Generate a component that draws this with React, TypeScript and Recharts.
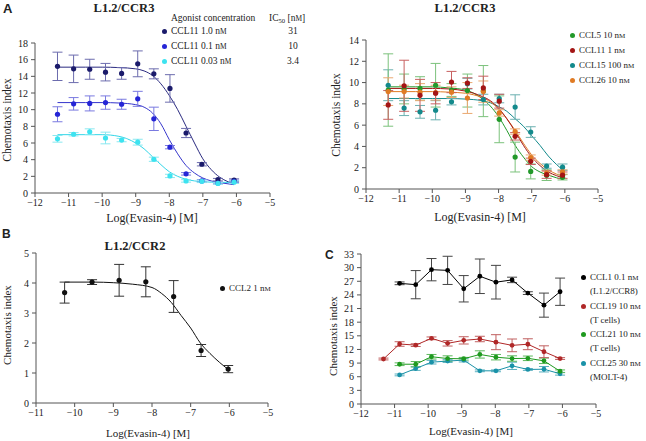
import React from 'react';
import { ComposedChart, XAxis, YAxis, Line, Scatter, ErrorBar } from 'recharts';

// dilution series (log M)
const doses = [-11.33, -10.85, -10.37, -9.9, -9.42, -8.94, -8.46, -7.98, -7.5, -7.03, -6.55, -6.07];
const fitX = [-11.33, -10.5, -10, -9.5, -9, -8.75, -8.5, -8.25, -8, -7.75, -7.5, -7.25, -7, -6.75, -6.5, -6.25, -6.07];

// panel A, left
const ccl11_10 = [15.2, 14.9, 14.85, 14.5, 14.35, 15.5, 14.3, 12.55, 7.2, 3.45, 1.6, 1.55];
const ccl11_10Err = [1.7, 1.65, 1.2, 1.05, 0.7, 1.55, 0.6, 1.65, 0.55, 0.2, 0.15, 0.15];
const ccl11_01 = [9.45, 10.7, 10.75, 10.85, 10.65, 11.3, 8.9, 5.5, 2.3, 1.45, 1.2, 1.4];
const ccl11_01Err = [0.9, 0.75, 0.9, 0.8, 0.6, 0.9, 1.4, 0.2, 0.15, 0.15, 0.1, 0.15];
const ccl11_003 = [6.5, 7.05, 7.35, 6.6, 6.35, 6.1, 4.05, 2.05, 1.45, 1.4, 1.15, 1.3];
const ccl11_003Err = [0.4, 0.2, 0.35, 0.7, 0.2, 0.35, 0.25, 0.2, 0.15, 0.15, 0.1, 0.15];
const fit10 = [15.1, 15.1, 15.1, 15.05, 14.9, 14.65, 14.1, 13.1, 11.7, 10.0, 8.0, 6.0, 4.1, 2.8, 1.9, 1.35, 1.05];
const fit01 = [10.85, 10.85, 10.85, 10.8, 10.6, 10.3, 9.6, 8.3, 6.4, 4.7, 3.3, 2.4, 1.8, 1.45, 1.25, 1.1, 1.0];
const fit003 = [7.0, 7.0, 7.0, 6.8, 6.0, 5.3, 4.35, 3.4, 2.55, 2.0, 1.65, 1.45, 1.35, 1.3, 1.28, 1.27, 1.27];
const aLeftNames = ['CCL11 1.0', 'CCL11 0.1', 'CCL11 0.03'];
const aLeftIc50 = ['31', '10', '3.4'];

// panel A, right
const ccl5 = [9.3, 9.4, 9.45, 9.75, 9.3, 9.25, 9.2, 6.55, 3.0, 1.65, 1.3, 1.1];
const ccl5Err = [3.4, 1.4, 1.1, 2.05, 0.6, 1.55, 2.4, 2.2, 1.4, 0.7, 0.5, 0.25];
const ccl11 = [7.9, 9.7, 8.8, 9.0, 10.05, 9.95, 9.5, 8.25, 4.95, 2.6, 1.35, 1.3];
const ccl11Err = [1.35, 2.4, 1.5, 1.0, 1.0, 0.5, 1.1, 0.65, 0.35, 0.3, 0.35, 0.3];
const ccl15 = [9.75, 7.6, 7.25, 7.4, 8.2, 9.9, 8.4, 8.5, 7.7, 5.35, 2.15, 2.05];
const ccl15Err = [1.45, 0.7, 0.6, 0.9, 0.3, 0.5, 0.5, 0.4, 1.15, 0.5, 0.2, 0.3];
const ccl26 = [9.15, 9.15, 9.1, 9.05, 9.1, 8.55, 9.15, 7.15, 5.4, 2.95, 1.5, 1.6];
const ccl26Err = [1.3, 0.6, 0.8, 0.7, 0.5, 1.45, 1.0, 0.3, 0.25, 0.25, 0.2, 0.2];
const fitCcl5 = [9.6, 9.6, 9.6, 9.5, 9.3, 9.0, 8.5, 7.8, 6.8, 5.5, 4.1, 3.0, 2.1, 1.6, 1.3, 1.05, 0.9];
const fitCcl11 = [9.45, 9.45, 9.45, 9.4, 9.2, 9.0, 8.7, 8.3, 7.6, 6.6, 5.4, 4.1, 3.0, 2.2, 1.6, 1.25, 1.05];
const fitCcl15 = [8.5, 8.5, 8.5, 8.5, 8.45, 8.4, 8.3, 8.1, 7.75, 7.3, 6.6, 5.9, 5.0, 4.1, 3.1, 2.3, 1.8];
const fitCcl26 = [9.15, 9.15, 9.15, 9.1, 9.0, 8.85, 8.6, 8.2, 7.5, 6.6, 5.5, 4.3, 3.2, 2.4, 1.8, 1.4, 1.2];
const aRightNames = ['CCL5 10', 'CCL11 1', 'CCL15 100', 'CCL26 10'];

// panel B
const dosesB = [-10.26, -9.55, -8.85, -8.16, -7.44, -6.73, -6.03];
const ccl2 = [3.68, 4.03, 4.09, 4.04, 3.55, 1.75, 1.13];
const ccl2Err = [0.35, 0.08, 0.53, 0.5, 0.53, 0.2, 0.12];
const fitXB = [-10.26, -9.5, -9, -8.5, -8, -7.75, -7.5, -7.25, -7, -6.75, -6.5, -6.25, -6.03];
const fitCcl2 = [4.03, 4.03, 4.01, 3.96, 3.85, 3.65, 3.35, 2.92, 2.5, 2.0, 1.65, 1.35, 1.12];

// panel C
const ccl1 = [null, 26.55, 26.25, 29.55, 29.4, 25.35, 28.1, 26.8, 27.3, 24.4, 21.75, 24.7];
const ccl1Err = [0, 0.3, 3.1, 2.45, 3.1, 2.9, 3.8, 3.7, 0.6, 0.3, 2.65, 3.0];
const ccl19 = [9.9, 13.2, 12.95, 14.45, 13.35, 14.0, 14.3, 13.6, 12.9, 13.15, 11.5, 10.0];
const ccl19Err = [0.2, 0.5, 0.3, 0.3, 0.6, 0.8, 0.6, 1.65, 1.4, 1.2, 1.3, 0.2];
const ccl21 = [null, 8.75, 8.75, 10.4, 10.0, 9.95, 10.9, 10.3, 10.0, 10.05, 9.5, 7.2];
const ccl21Err = [0, 0.3, 0.6, 0.5, 0.6, 0.3, 0.8, 0.6, 0.6, 0.5, 0.6, 0.3];
const ccl25 = [null, 6.4, 7.8, 9.2, 9.45, 9.65, 7.3, 7.3, 8.4, 7.6, 7.65, 6.65];
const ccl25Err = [0, 0.2, 0.4, 0.4, 0.3, 0.4, 0.2, 0.2, 0.8, 0.2, 0.6, 0.3];
const cNames = [['CCL1 0.1', '(L1.2/CCR8)'], ['CCL19 10', '(T cells)'], ['CCL21 10', '(T cells)'], ['CCL25 30', '(MOLT-4)']];

const SERIF = '"Liberation Serif", "Times New Roman", serif';
const SANS = '"Liberation Sans", Arial, sans-serif';

const pts = (xs: number[], ys: (number | null)[], es?: number[]) =>
  xs.map((x, i) => ({ x, y: ys[i], err: es ? es[i] : 0 })).filter((p) => p.y !== null);

const minus = (v: number) => (v < 0 ? '\u2212' + Math.abs(v) : String(v));

const NM = () => (
  <>
    n<span style={{ fontSize: '0.78em' }}>M</span>
  </>
);

type Ser = { data: any[]; color: string; err: string; r: number; line?: boolean };
type Fit = { data: any[]; color: string };

type PanelProps = {
  left: number;
  top: number;
  width: number;
  height: number;
  margin: { top: number; right: number; bottom: number; left: number };
  yWidth: number;
  xHeight: number;
  xTicks: number[];
  yTicks: number[];
  series: Ser[];
  fits: Fit[];
  xLab: [number, number, number];
  yLab: [number, number, number];
};

const tickStyle = { fill: '#222', fontSize: 10, style: { fontFamily: SERIF } };

function Panel(p: PanelProps) {
  const xl = () => (
    <text x={p.xLab[0]} y={p.xLab[1]} textAnchor="middle" dominantBaseline="central" fill="#222" style={{ fontFamily: SERIF, fontSize: p.xLab[2] }}>
      Log(Evasin-4) [M]
    </text>
  );
  const yl = () => (
    <text
      x={p.yLab[0]}
      y={p.yLab[1]}
      transform={`rotate(-90 ${p.yLab[0]} ${p.yLab[1]})`}
      textAnchor="middle"
      dominantBaseline="central"
      fill="#222"
      style={{ fontFamily: SERIF, fontSize: p.yLab[2] }}
    >
      Chemotaxis index
    </text>
  );
  return (
    <div style={{ position: 'absolute', left: p.left, top: p.top }}>
      <ComposedChart width={p.width} height={p.height} margin={p.margin} style={{ fontFamily: SERIF }}>
        <XAxis
          type="number"
          dataKey="x"
          domain={[p.xTicks[0], p.xTicks[p.xTicks.length - 1]]}
          ticks={p.xTicks}
          interval={0}
          allowDataOverflow
          height={p.xHeight}
          stroke="#555"
          tick={tickStyle}
          tickSize={4}
          tickMargin={2}
          tickFormatter={minus}
          label={xl}
        />
        <YAxis
          type="number"
          dataKey="y"
          domain={[p.yTicks[0], p.yTicks[p.yTicks.length - 1]]}
          ticks={p.yTicks}
          interval={0}
          width={p.yWidth}
          stroke="#555"
          tick={tickStyle}
          tickSize={4}
          tickMargin={3}
          label={yl}
        />
        {p.fits.map((f, i) => (
          <Line key={'f' + i} data={f.data} dataKey="y" type="monotone" dot={false} stroke={f.color} strokeWidth={1} isAnimationActive={false} />
        ))}
        {p.series.map((s, i) => (
          <Scatter
            key={'s' + i}
            data={s.data}
            dataKey="y"
            fill={s.color}
            line={s.line ? { stroke: s.color, strokeWidth: 1 } : false}
            shape={(d: any) => <circle cx={d.cx} cy={d.cy} r={s.r} fill={s.color} />}
            isAnimationActive={false}
          >
            <ErrorBar dataKey="err" direction="y" width={5} stroke={s.err} strokeWidth={1} />
          </Scatter>
        ))}
      </ComposedChart>
    </div>
  );
}

const abs = (left: number, top: number, extra: React.CSSProperties = {}): React.CSSProperties => ({
  position: 'absolute',
  left,
  top,
  whiteSpace: 'nowrap',
  lineHeight: 1,
  ...extra,
});

const Bullet = ({ color }: { color: string }) => (
  <span style={{ display: 'inline-block', width: 5, height: 5, borderRadius: 3, background: color, marginRight: 4, verticalAlign: 'middle' }} />
);

const aLeftColors = ['#1b1b6b', '#2525d6', '#3de3f0'];
const aRightColors = ['#22992a', '#a31515', '#138a8c', '#e07b24'];
const cColors = ['#000000', '#b02828', '#1f9a1f', '#1a92a8'];

export default function App() {
  const xsA = [-12, -11, -10, -9, -8, -7, -6, -5];
  return (
    <div style={{ position: 'absolute', left: 0, top: 0, width: 646, height: 441, background: '#fff', fontFamily: SERIF, color: '#222', overflow: 'hidden' }}>
      <Panel
        left={0}
        top={0}
        width={323}
        height={228}
        margin={{ top: 43, right: 53, bottom: 0, left: 0 }}
        yWidth={35}
        xHeight={35}
        xTicks={xsA}
        yTicks={[0, 2, 4, 6, 8, 10, 12, 14, 16, 18]}
        fits={[
          { data: pts(fitX, fit10), color: '#2a2a80' },
          { data: pts(fitX, fit01), color: '#3535cc' },
          { data: pts(fitX, fit003), color: '#33d6e8' },
        ]}
        series={[
          { data: pts(doses, ccl11_10, ccl11_10Err), color: aLeftColors[0], err: '#6c6cae', r: 2.6 },
          { data: pts(doses, ccl11_01, ccl11_01Err), color: aLeftColors[1], err: '#7a7ae0', r: 2.6 },
          { data: pts(doses, ccl11_003, ccl11_003Err), color: aLeftColors[2], err: '#8ae8f0', r: 2.6 },
        ]}
        xLab={[152, 218, 12]}
        yLab={[7, 120, 11.5]}
      />
      <Panel
        left={323}
        top={0}
        width={323}
        height={228}
        margin={{ top: 40, right: 48, bottom: 0, left: 0 }}
        yWidth={43}
        xHeight={39}
        xTicks={xsA}
        yTicks={[0, 2, 4, 6, 8, 10, 12, 14]}
        fits={[
          { data: pts(fitX, fitCcl15), color: aRightColors[2] },
          { data: pts(fitX, fitCcl5), color: aRightColors[0] },
          { data: pts(fitX, fitCcl26), color: aRightColors[3] },
          { data: pts(fitX, fitCcl11), color: aRightColors[1] },
        ]}
        series={[
          { data: pts(doses, ccl15, ccl15Err), color: aRightColors[2], err: '#6ab0b0', r: 2.6 },
          { data: pts(doses, ccl5, ccl5Err), color: aRightColors[0], err: '#7cc27c', r: 2.6 },
          { data: pts(doses, ccl26, ccl26Err), color: aRightColors[3], err: '#eaa870', r: 2.6 },
          { data: pts(doses, ccl11, ccl11Err), color: aRightColors[1], err: '#c86060', r: 2.6 },
        ]}
        xLab={[157, 217, 12]}
        yLab={[13, 115, 11.5]}
      />
      <Panel
        left={0}
        top={220}
        width={323}
        height={221}
        margin={{ top: 33, right: 55, bottom: 0, left: 0 }}
        yWidth={36}
        xHeight={38}
        xTicks={[-11, -10, -9, -8, -7, -6, -5]}
        yTicks={[0, 1, 2, 3, 4, 5]}
        fits={[{ data: pts(fitXB, fitCcl2), color: '#111' }]}
        series={[{ data: pts(dosesB, ccl2, ccl2Err), color: '#111', err: '#333', r: 2.6 }]}
        xLab={[148, 213, 11]}
        yLab={[7, 105, 11]}
      />
      <Panel
        left={323}
        top={220}
        width={323}
        height={221}
        margin={{ top: 34, right: 50, bottom: 0, left: 0 }}
        yWidth={38}
        xHeight={37}
        xTicks={xsA}
        yTicks={[0, 3, 6, 9, 12, 15, 18, 21, 24, 27, 30, 33]}
        fits={[]}
        series={[
          { data: pts(doses, ccl25, ccl25Err), color: cColors[3], err: '#5ab0c0', r: 2.4, line: true },
          { data: pts(doses, ccl21, ccl21Err), color: cColors[2], err: '#5cb85c', r: 2.4, line: true },
          { data: pts(doses, ccl19, ccl19Err), color: cColors[1], err: '#c06060', r: 2.4, line: true },
          { data: pts(doses, ccl1, ccl1Err), color: cColors[0], err: '#444', r: 2.4, line: true },
        ]}
        xLab={[148, 211, 11]}
        yLab={[10, 116, 11]}
      />

      {/* panel letters and titles */}
      <div style={abs(3, 2, { fontFamily: SANS, fontWeight: 'bold', fontSize: 13 })}>A</div>
      <div style={abs(2, 228, { fontFamily: SANS, fontWeight: 'bold', fontSize: 12 })}>B</div>
      <div style={abs(325, 249, { fontFamily: SANS, fontWeight: 'bold', fontSize: 12 })}>C</div>
      <div style={abs(124, 7.5, { fontWeight: 'bold', fontSize: 12.5, transform: 'translate(-50%,-50%)' })}>L1.2/CCR3</div>
      <div style={abs(465, 8, { fontWeight: 'bold', fontSize: 12.5, transform: 'translate(-50%,-50%)' })}>L1.2/CCR3</div>
      <div style={abs(135, 246, { fontWeight: 'bold', fontSize: 12.5, transform: 'translate(-50%,-50%)' })}>L1.2/CCR2</div>

      {/* panel A left legend */}
      <div style={abs(171, 13.5, { fontSize: 9.5 })}>Agonist concentration</div>
      <div style={abs(269, 13.5, { fontSize: 9.5 })}>
        IC<sub style={{ fontSize: '0.7em', verticalAlign: '-0.3em' }}>50</sub> [<NM />]
      </div>
      {aLeftNames.map((n, i) => (
        <React.Fragment key={n}>
          <div style={abs(162, 27 + i * 15, { fontSize: 9.5 })}>
            <Bullet color={aLeftColors[i]} />
            {n} <NM />
          </div>
          <div style={abs(293, 27 + i * 15, { fontSize: 9.5, transform: 'translateX(-50%)' })}>{aLeftIc50[i]}</div>
        </React.Fragment>
      ))}

      {/* panel A right legend */}
      {aRightNames.map((n, i) => (
        <div key={n} style={abs(570, 30.5 + i * 15, { fontSize: 9 })}>
          <Bullet color={aRightColors[i]} />
          {n} <NM />
        </div>
      ))}

      {/* panel B legend */}
      <div style={abs(220, 283.5, { fontSize: 9 })}>
        <Bullet color="#111" />
        CCL2 1 <NM />
      </div>

      {/* panel C legend */}
      {cNames.map((n, i) => (
        <React.Fragment key={n[0]}>
          <div style={abs(581, 273 + i * 28.5, { fontSize: 9 })}>
            <Bullet color={cColors[i]} />
            {n[0]} <NM />
          </div>
          <div style={abs(590, 287 + i * 28.5, { fontSize: 9 })}>{n[1]}</div>
        </React.Fragment>
      ))}
    </div>
  );
}
